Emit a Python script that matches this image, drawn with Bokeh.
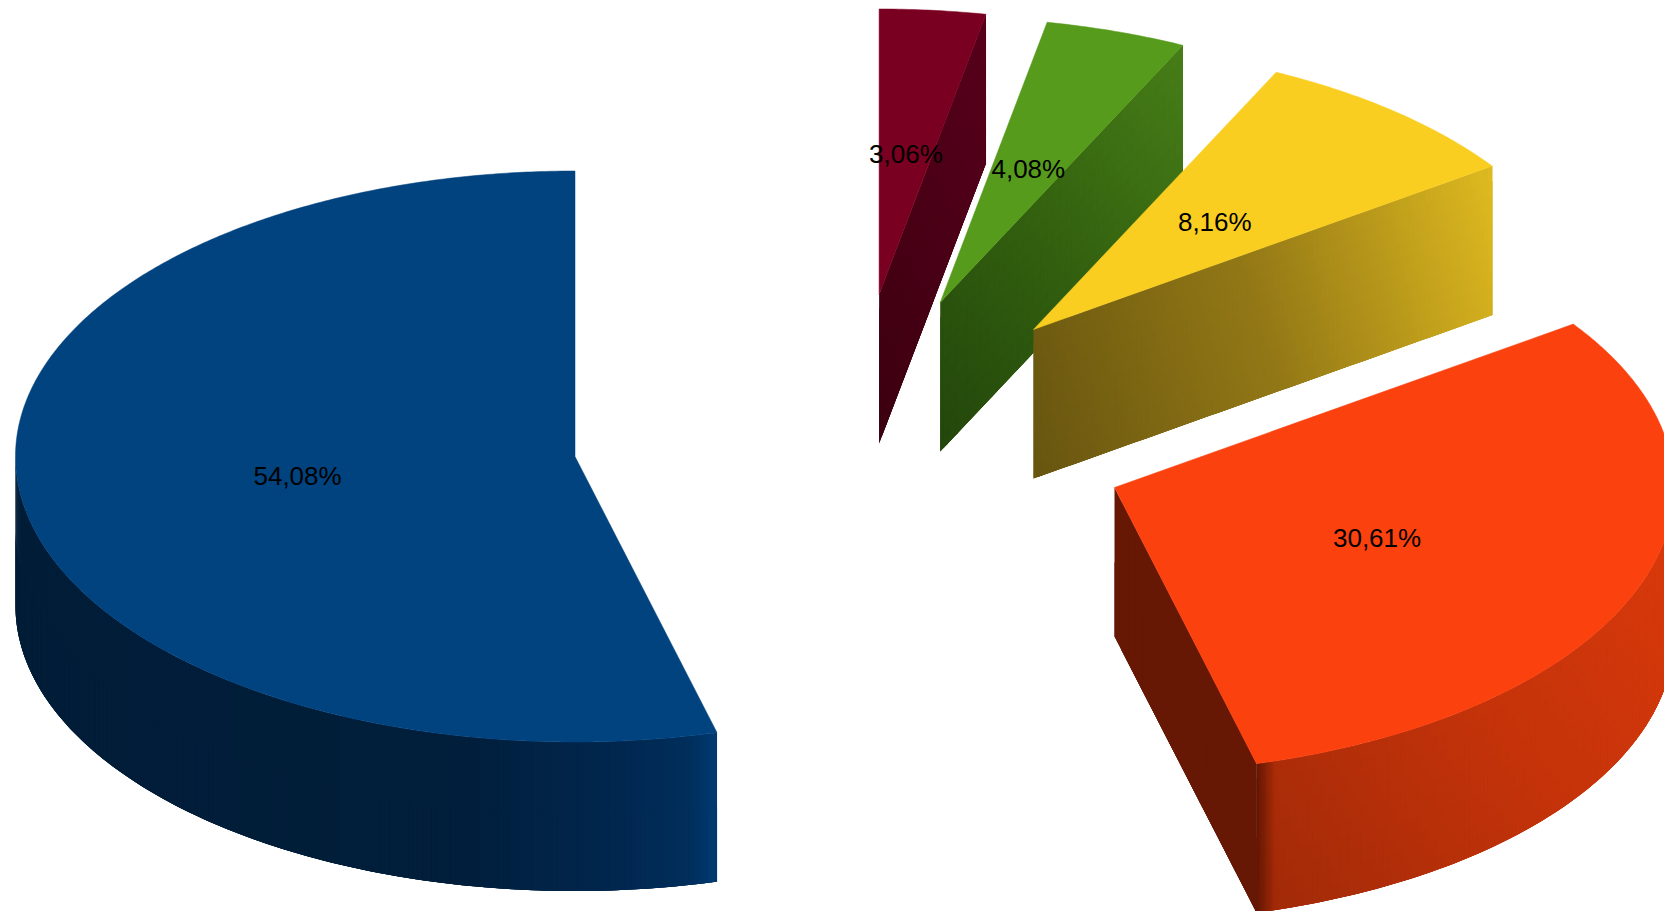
import math
from bokeh.core.properties import value
from bokeh.embed import file_html
from bokeh.models import Range1d
from bokeh.plotting import figure
from bokeh.resources import INLINE

# ---- data (clockwise from 12 o'clock) ----
shares = [3.06, 4.08, 8.16, 30.61, 54.08]
top_colors = ["#7a0021", "#569b1c", "#f9ce20", "#fb410e", "#00437f"]

# ---- layout (picture pixels) ----
W, H = 1664, 911
RX, RY, DEPTH = 559.5, 285.5, 149
centers = [(878.6, 294), (939.7, 302), (1033, 329), (1114, 487), (574.5, 456)]
FONT_PX = "26px"


def hex2rgb(c):
    return tuple(int(c[i:i + 2], 16) for i in (1, 3, 5))


def lerp_color(stops, t):
    t = max(0.0, min(1.0, t))
    for (t0, c0), (t1, c1) in zip(stops, stops[1:]):
        if t <= t1:
            f = (t - t0) / (t1 - t0) if t1 > t0 else 0
            a, b = hex2rgb(c0), hex2rgb(c1)
            return "#%02x%02x%02x" % tuple(round(a[i] + (b[i] - a[i]) * f) for i in range(3))
    return stops[-1][1]


def pt(c, theta, r=1.0):
    a = math.radians(theta)
    return c[0] + RX * r * math.sin(a), c[1] - RY * r * math.cos(a)


def arc(c, a0, a1, step=0.5):
    n = max(2, int(abs(a1 - a0) / step))
    return [pt(c, a0 + (a1 - a0) * i / n) for i in range(n + 1)]


def line_pts(p0, p1, n=70):
    return [(p0[0] + (p1[0] - p0[0]) * i / n, p0[1] + (p1[1] - p0[1]) * i / n) for i in range(n + 1)]


def wall(p, top_pts, stops, direction, nv=10, corner=None):
    """Shaded extruded wall: a mesh of flat cells, each painted over the next one's start."""
    corners = [(x, y + d) for x, y in top_pts for d in (0, DEPTH)]
    proj = [x * direction[0] + y * direction[1] for x, y in corners]
    lo, hi = min(proj), max(proj)
    xs, ys, cols = [], [], []
    last = len(top_pts) - 1
    for i in range(last):
        x0, y0 = top_pts[i]
        xm, ym = top_pts[i + 1]
        x1, y1 = top_pts[min(i + 2, last)]
        for j in range(nv):
            d0, dm, d1 = DEPTH * j / nv, DEPTH * (j + 1) / nv, DEPTH * min(j + 2, nv) / nv
            xs.append([x0, x1, x1, x0])
            ys.append([y0 + d0, y1 + d0, y1 + d1, y0 + d1])
            mx, my = (x0 + xm) / 2, (y0 + ym) / 2 + (d0 + dm) / 2
            col = lerp_color(stops, ((mx * direction[0] + my * direction[1]) - lo) / (hi - lo))
            if corner:
                cx, dark, width = corner
                f = (mx - cx) / width
                if f < 1:
                    col = lerp_color([(0, dark), (1, col)], f)
            cols.append(col)
    p.patches(xs, ys, fill_color=cols, line_color=None)


p = figure(width=W, height=H, output_backend="svg", toolbar_location=None,
           x_range=Range1d(0, W), y_range=Range1d(H, 0),
           min_border=0, outline_line_color=None)
p.xaxis.visible = False
p.yaxis.visible = False
p.grid.visible = False

# cumulative angles from the shares
total = sum(shares)
edges = [0.0]
for s in shares:
    edges.append(edges[-1] + 360.0 * s / total)

# ---- red ----
c = centers[0]
wall(p, line_pts(c, pt(c, edges[1]), 40),
     [(0, "#3c0010"), (0.5, "#4a0016"), (1, "#58001c")], (1, -0.5))
# ---- green ----
c = centers[1]
wall(p, line_pts(c, pt(c, edges[2]), 70),
     [(0, "#23460c"), (0.5, "#33610f"), (1, "#477e18")], (1, -0.9))
# ---- yellow ----
c = centers[2]
wall(p, line_pts(c, pt(c, edges[3]), 110),
     [(0, "#675510"), (0.5, "#937816"), (1, "#dfba20")], (1, -0.3))
# ---- orange ----
c = centers[3]
wall(p, line_pts(c, pt(c, edges[4]), 20), [(0, "#661804"), (1, "#661804")], (1, 0), nv=2)
turn = edges[4] - 2.5
fine = arc(c, edges[4], turn, step=0.12)
wall(p, fine + arc(c, turn, 85)[1:], [(0, "#a02a08"), (0.5, "#c4330a"), (1, "#dc3b0c")], (1, -0.75),
     corner=(pt(c, edges[4])[0] + 1, "#661804", 18))
# ---- blue ----
c = centers[4]
wall(p, arc(c, edges[4], 270),
     [(0, "#011d38"), (0.62, "#011e3a"), (0.86, "#01274f"), (0.96, "#012e5c"), (1, "#003a72")],
     (1, 0), nv=2)

# ---- top faces ----
for i, col in enumerate(top_colors):
    c = centers[i]
    outline = [c] + arc(c, edges[i], edges[i + 1])
    p.patch([q[0] for q in outline], [q[1] for q in outline], fill_color=col, line_color=col, line_width=0.5)

# ---- labels ----
lx, ly, lt = [], [], []
for i, s in enumerate(shares):
    x, y = pt(centers[i], (edges[i] + edges[i + 1]) / 2, 0.5)
    lx.append(x)
    ly.append(y + 1.5)
    lt.append(f"{s:.2f}".replace(".", ",") + "%")
p.text(lx, ly, text=lt, text_font=value("Liberation Sans"), text_font_size=FONT_PX,
       text_color="#000000", text_align="center", text_baseline="middle")

open("out.html", "w").write(file_html(p, INLINE))
